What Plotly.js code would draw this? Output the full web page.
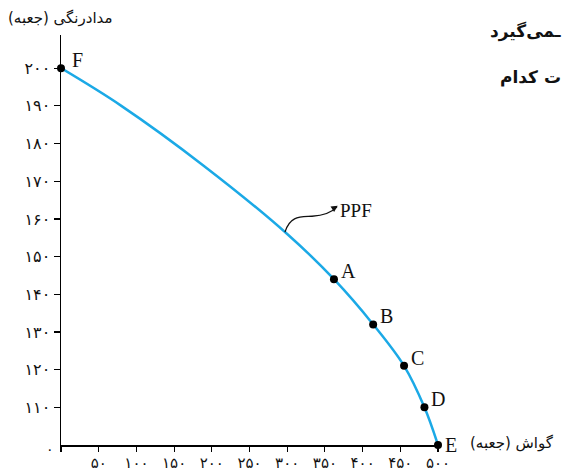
<!DOCTYPE html>
<html>
<head>
<meta charset="utf-8">
<script src="https://cdn.plot.ly/plotly-3.0.1.min.js"></script>
<style>html,body{margin:0;padding:0;background:#fff;}#chart{width:563px;height:471px;}</style>
</head>
<body>
<div id="chart"></div>
<script>
// ---- data ----
const pointLabels = ['F', 'A', 'B', 'C', 'D', 'E'];
const pointX = [0, 362, 414, 455, 482, 500];
const pointY = [200, 144, 132, 121, 110, 0];
const curveX = [0, 80, 190, 300, 362, 414, 455, 482, 500];
const curveY = [200, 190, 174, 156, 144, 132, 121, 110, 0];
const xTickVals = [0, 50, 100, 150, 200, 250, 300, 350, 400, 450, 500];
const xTickText = ['', '۵۰', '۱۰۰', '۱۵۰', '۲۰۰', '۲۵۰', '۳۰۰', '۳۵۰', '۴۰۰', '۴۵۰', '۵۰۰'];
const yTickVals = [110, 120, 130, 140, 150, 160, 170, 180, 190, 200];
const yTickText = ['۱۱۰', '۱۲۰', '۱۳۰', '۱۴۰', '۱۵۰', '۱۶۰', '۱۷۰', '۱۸۰', '۱۹۰', '۲۰۰'];
const originLabel = '۰';
const xTitle = 'گواش (جعبه)';
const yTitle = 'مدادرنگی (جعبه)';
const curveName = 'PPF';
const sideText1 = 'ـمی‌گیرد';
const sideText2 = 'ت کدام';
// the vertical axis is broken: everything below this value sits on the x axis
const Y_BREAK = 100;
const brk = v => Math.max(v, Y_BREAK);

const persian = '"DejaVu Sans", sans-serif';
const serif = '"Liberation Serif", "DejaVu Serif", serif';

const traces = [
  {
    x: curveX, y: curveY.map(brk), type: 'scatter', mode: 'lines',
    line: {color: '#1ba9e6', width: 2.5, shape: 'spline', smoothing: 1.0},
    hoverinfo: 'skip', cliponaxis: false
  },
  {
    x: pointX, y: pointY.map(brk), type: 'scatter', mode: 'markers',
    marker: {color: '#000', size: 8},
    cliponaxis: false
  }
];

const pointAnnotations = pointLabels.map((l, i) => ({
  text: l, xref: 'x', yref: 'y', x: pointX[i], y: brk(pointY[i]),
  xanchor: 'left', yanchor: 'middle',
  xshift: l === 'F' ? 9 : 5, yshift: l === 'E' ? 0 : 8,
  showarrow: false, font: {family: serif, size: 20, color: '#111'}
}));

const layout = {
  width: 563, height: 471,
  margin: {l: 61, r: 125, t: 35, b: 26},
  paper_bgcolor: '#fff', plot_bgcolor: '#fff',
  showlegend: false,
  xaxis: {
    range: [0, 500], showgrid: false, zeroline: false,
    showline: true, linecolor: '#000', linewidth: 1.5,
    ticks: 'outside', ticklen: 5, tickwidth: 1.2, tickcolor: '#000',
    tickvals: xTickVals, ticktext: xTickText, ticklabelstandoff: -2,
    tickfont: {family: persian, size: 15, color: '#111'},
    fixedrange: true
  },
  yaxis: {
    range: [Y_BREAK, 208.8], showgrid: false, zeroline: false,
    showline: true, linecolor: '#000', linewidth: 1.5,
    ticks: 'outside', ticklen: 6, tickwidth: 1.2, tickcolor: '#000',
    tickvals: yTickVals, ticktext: yTickText,
    tickfont: {family: persian, size: 16, color: '#111'},
    fixedrange: true
  },
  shapes: [
    {
      type: 'path', xref: 'x', yref: 'y',
      path: 'M 297,156.5 C 304,161 318,160.5 333,160.7 S 358,161.5 366,163.2',
      line: {color: '#111', width: 1.3}
    }
  ],
  annotations: pointAnnotations.concat([
    {text: originLabel, xref: 'paper', yref: 'y', x: 0, y: Y_BREAK, xanchor: 'right', yanchor: 'middle',
     xshift: -5, yshift: -4, showarrow: false, font: {family: persian, size: 14, color: '#111'}},
    {text: yTitle, xref: 'paper', yref: 'paper', x: -0.145, y: 1.0, xanchor: 'left', yanchor: 'bottom',
     yshift: 6, showarrow: false, font: {family: persian, size: 15, color: '#111'}},
    {text: xTitle, xref: 'paper', yref: 'y', x: 1.0, y: Y_BREAK, xanchor: 'left', yanchor: 'middle',
     xshift: 30, yshift: 2, showarrow: false, font: {family: persian, size: 15, color: '#111'}},
    {text: curveName, xref: 'x', yref: 'y', x: 367, y: 162.3, xanchor: 'left', yanchor: 'middle',
     xshift: 0, showarrow: false, font: {family: serif, size: 19, color: '#111'}},
    {text: '', xref: 'x', yref: 'y', x: 367, y: 163.5, ax: -6, ay: 4, showarrow: true,
     arrowhead: 2, arrowsize: 1, arrowwidth: 1.3, arrowcolor: '#111', standoff: 0},
    {text: '<b>' + sideText1 + '</b>', xref: 'paper', yref: 'paper', x: 1.0, y: 1.0, xanchor: 'right', yanchor: 'middle',
     xshift: 125, yshift: 4, showarrow: false, font: {family: persian, size: 17, color: '#111'}},
    {text: '<b>' + sideText2 + '</b>', xref: 'paper', yref: 'paper', x: 1.0, y: 1.0, xanchor: 'right', yanchor: 'middle',
     xshift: 125, yshift: -42, showarrow: false, font: {family: persian, size: 17, color: '#111'}}
  ])
};

Plotly.newPlot('chart', traces, layout, {displayModeBar: false, staticPlot: true});
</script>
</body>
</html>
